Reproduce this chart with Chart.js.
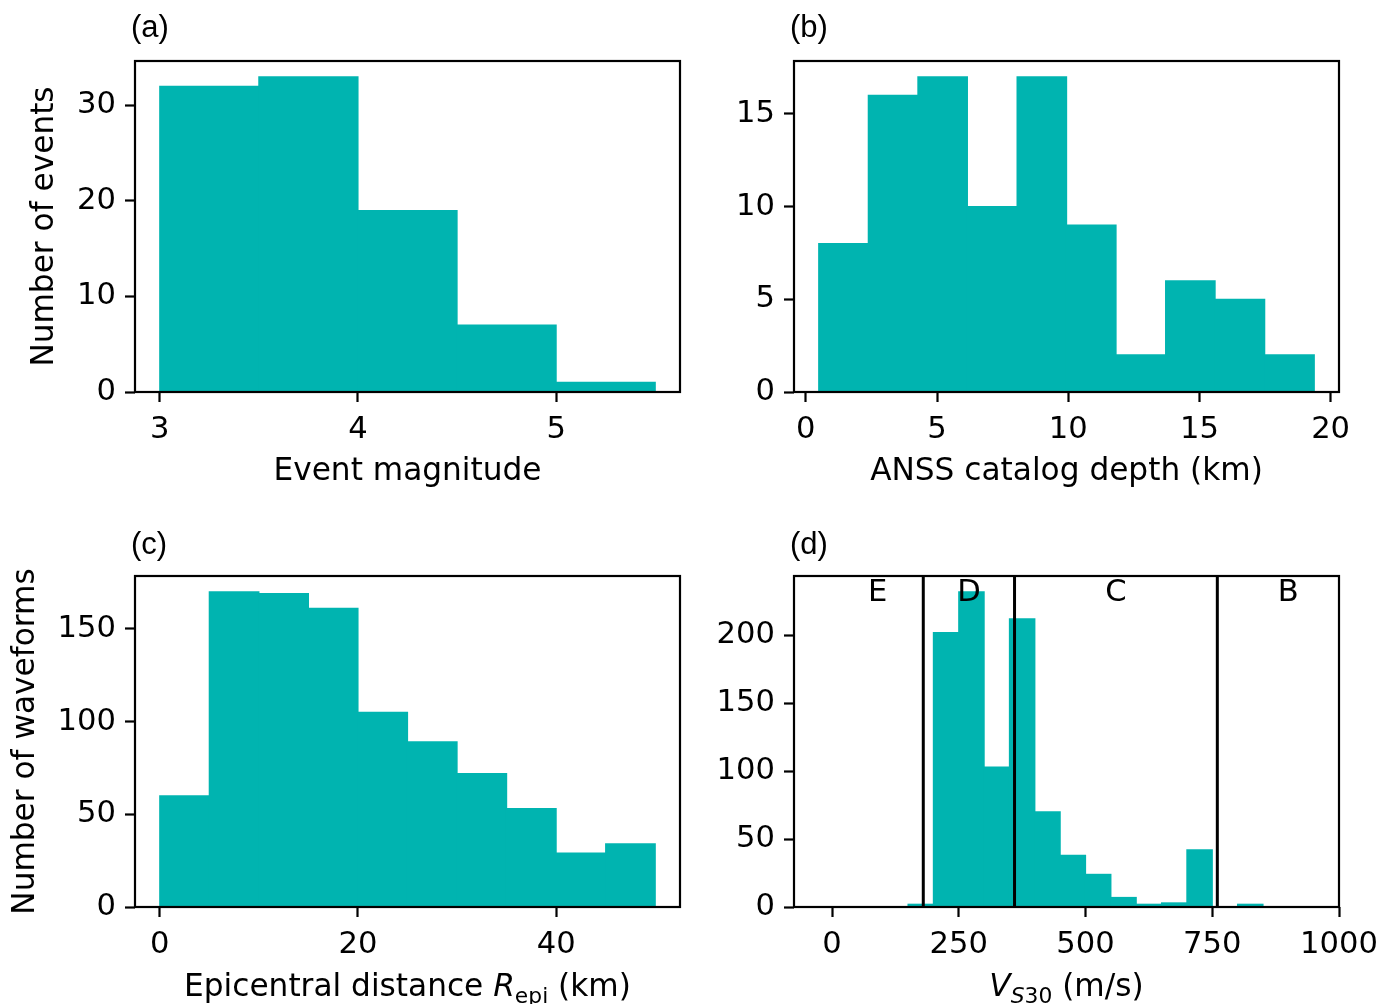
<!DOCTYPE html>
<html>
<head>
<meta charset="utf-8">
<script src="https://cdn.jsdelivr.net/npm/chart.js@4.4.1/dist/chart.umd.min.js"></script>
<style>
  html, body { margin: 0; padding: 0; background: #fff; overflow: hidden; }
  #fig { position: relative; width: 1380px; height: 1004px; }
  #fig canvas { position: absolute; }
</style>
</head>
<body>
<div id="fig">
  <canvas id="pa" width="690" height="502" style="left:0;top:0"></canvas>
  <canvas id="pb" width="690" height="502" style="left:690px;top:0"></canvas>
  <canvas id="pc" width="690" height="502" style="left:0;top:502px"></canvas>
  <canvas id="pd" width="690" height="502" style="left:690px;top:502px"></canvas>
</div>
<script>
'use strict';

// (a) event magnitude histogram
const MAG_EDGES  = [3.0, 3.5, 4.0, 4.5, 5.0, 5.5];
const MAG_COUNTS = [32, 33, 19, 7, 1];
const MAG_XLIM   = [2.875, 5.625];
const MAG_YLIM   = [0, 34.65];
const MAG_XTICKS = [3, 4, 5];
const MAG_YTICKS = [0, 10, 20, 30];

// (b) ANSS catalog depth histogram
const DEPTH_EDGES  = [0.49, 2.38, 4.27, 6.16, 8.05, 9.94, 11.82, 13.71, 15.60, 17.49, 19.38];
const DEPTH_COUNTS = [8, 16, 17, 10, 17, 9, 2, 6, 5, 2];
const DEPTH_XLIM   = [-0.45, 20.32];
const DEPTH_YLIM   = [0, 17.85];
const DEPTH_XTICKS = [0, 5, 10, 15, 20];
const DEPTH_YTICKS = [0, 5, 10, 15];

// (c) epicentral distance histogram
const REPI_EDGES  = [0, 5, 10, 15, 20, 25, 30, 35, 40, 45, 50];
const REPI_COUNTS = [60, 170, 169, 161, 105, 89, 72, 53, 29, 34];
const REPI_XLIM   = [-2.5, 52.5];
const REPI_YLIM   = [0, 178.5];
const REPI_XTICKS = [0, 20, 40];
const REPI_YTICKS = [0, 50, 100, 150];

// (d) Vs30 histogram with NEHRP site class boundaries
const VS30_EDGES  = [150, 200, 250, 300, 350, 400, 450, 500, 550, 600, 650, 700, 750, 800, 850];
const VS30_COUNTS = [2, 202, 232, 103, 212, 70, 38, 24, 7, 2, 3, 42, 0, 2];
const VS30_XLIM   = [-75, 1000];
const VS30_YLIM   = [0, 243.6];
const VS30_XTICKS = [0, 250, 500, 750, 1000];
const VS30_YTICKS = [0, 50, 100, 150, 200];
const SITE_BOUNDS  = [180, 360, 760];
const SITE_CLASSES = ['E', 'D', 'C', 'B'];
const SITE_LABEL_X = [90, 270, 560, 900];
const SITE_LABEL_Y = 231;

const FONT = "'DejaVu Sans'";
const FS = 30.6;        // tick labels
const FS_TITLE = 31.2;  // axis titles
const BAR_COLOR = '#00b4b0';

function histData(edges, counts) {
  return counts.map((c, i) => ({ x: (edges[i] + edges[i + 1]) / 2, y: c }));
}

function fixedTicks(values) {
  return scale => { scale.ticks = values.map(v => ({ value: v })); };
}

// text with italic / subscript runs, centred at (cx, cy)
function drawRich(ctx, segs, cx, cy) {
  const fontOf = s => (s.it ? 'italic ' : '') + (s.sub ? FS_TITLE * 0.7 : FS_TITLE) + 'px ' + FONT;
  let total = 0;
  segs.forEach(s => { ctx.font = fontOf(s); total += ctx.measureText(s.t).width; });
  let x = cx - total / 2;
  ctx.textAlign = 'left';
  ctx.textBaseline = 'alphabetic';
  const base = cy + FS_TITLE * 0.36;
  segs.forEach(s => {
    ctx.font = fontOf(s);
    ctx.fillText(s.t, x, base + (s.sub ? FS_TITLE * 0.22 : 0));
    x += ctx.measureText(s.t).width;
  });
}

const annotPlugin = {
  id: 'annot',
  afterDatasetsDraw(chart, args, o) {
    const { ctx, chartArea: a } = chart;
    ctx.save();
    ctx.strokeStyle = '#000';
    ctx.lineWidth = 2.2;
    ctx.strokeRect(a.left, a.top, a.right - a.left, a.bottom - a.top);

    ctx.fillStyle = '#000';
    if (o.letters) {
      ctx.font = FS + 'px ' + FONT;
      ctx.textAlign = 'center';
      ctx.textBaseline = 'middle';
      o.letters.forEach((t, i) => {
        ctx.fillText(t, chart.scales.x.getPixelForValue(o.letterX[i]),
                        chart.scales.y.getPixelForValue(o.letterY));
      });
    }
    ctx.restore();
  },
  afterDraw(chart, args, o) {
    const { ctx, chartArea: a } = chart;
    ctx.save();
    ctx.fillStyle = '#000';
    // panel tag
    ctx.font = "31px 'Liberation Sans', Arial, sans-serif";
    ctx.textAlign = 'left';
    ctx.textBaseline = 'middle';
    ctx.fillText(o.tag, a.left - 4, o.tagY);
    // x title
    drawRich(ctx, o.xTitle, (a.left + a.right) / 2, o.xTitleY);
    // y title
    if (o.yTitle) {
      ctx.translate(o.yTitleX, (a.top + a.bottom) / 2);
      ctx.rotate(-Math.PI / 2);
      ctx.font = FS_TITLE + 'px ' + FONT;
      ctx.textAlign = 'center';
      ctx.textBaseline = 'middle';
      ctx.fillText(o.yTitle, 0, 0);
    }
    ctx.restore();
  }
};

function axis(lim, ticks, extra) {
  return Object.assign({
    type: 'linear',
    min: lim[0],
    max: lim[1],
    offset: false,
    afterBuildTicks: fixedTicks(ticks),
    border: { display: false },
    grid: {
      offset: false, drawOnChartArea: false, drawTicks: true,
      tickLength: 10, tickWidth: 2.2, tickColor: '#000'
    },
    ticks: {
      color: '#000',
      font: { family: FONT, size: FS },
      autoSkip: false,
      maxRotation: 0,
      callback: v => String(v)
    }
  }, extra);
}

function makePanel(id, p) {
  const datasets = [{
    type: 'bar',
    data: histData(p.edges, p.counts),
    backgroundColor: BAR_COLOR,
    borderWidth: 0,
    inflateAmount: 0.6,
    barPercentage: 1,
    categoryPercentage: 1,
    order: 2
  }];
  (p.vlines || []).forEach(v => {
    datasets.push({
      type: 'line',
      data: [{ x: v, y: p.ylim[0] }, { x: v, y: p.ylim[1] }],
      borderColor: '#000',
      borderWidth: 3,
      pointRadius: 0,
      order: 1
    });
  });

  const xAx = axis(p.xlim, p.xticks, {
    afterFit: s => { s.height = p.xAxisH; s.paddingLeft = 0; s.paddingRight = 0; }
  });
  xAx.ticks.padding = 10;
  const yAx = axis(p.ylim, p.yticks, {
    afterFit: s => { s.width = p.yAxisW; s.paddingTop = 0; s.paddingBottom = 0; }
  });
  yAx.ticks.padding = 9;

  return new Chart(document.getElementById(id), {
    type: 'bar',
    data: { datasets },
    options: {
      responsive: false,
      animation: false,
      devicePixelRatio: 1,
      layout: { padding: { left: 0, right: p.padRight, top: p.padTop, bottom: 0 } },
      plugins: {
        legend: { display: false },
        tooltip: { enabled: false },
        annot: p.annot
      },
      scales: { x: xAx, y: yAx }
    },
    plugins: [annotPlugin]
  });
}

makePanel('pa', {
  edges: MAG_EDGES, counts: MAG_COUNTS, xlim: MAG_XLIM, ylim: MAG_YLIM,
  xticks: MAG_XTICKS, yticks: MAG_YTICKS,
  yAxisW: 135, xAxisH: 110, padTop: 61, padRight: 10,
  annot: {
    tag: '(a)', tagY: 28,
    xTitle: [{ t: 'Event magnitude' }], xTitleY: 469,
    yTitle: 'Number of events', yTitleX: 45
  }
});

makePanel('pb', {
  edges: DEPTH_EDGES, counts: DEPTH_COUNTS, xlim: DEPTH_XLIM, ylim: DEPTH_YLIM,
  xticks: DEPTH_XTICKS, yticks: DEPTH_YTICKS,
  yAxisW: 104, xAxisH: 110, padTop: 61, padRight: 41,
  annot: {
    tag: '(b)', tagY: 28,
    xTitle: [{ t: 'ANSS catalog depth (km)' }], xTitleY: 469
  }
});

makePanel('pc', {
  edges: REPI_EDGES, counts: REPI_COUNTS, xlim: REPI_XLIM, ylim: REPI_YLIM,
  xticks: REPI_XTICKS, yticks: REPI_YTICKS,
  yAxisW: 135, xAxisH: 97, padTop: 74, padRight: 10,
  annot: {
    tag: '(c)', tagY: 43,
    xTitle: [{ t: 'Epicentral distance ' }, { t: 'R', it: true }, { t: 'epi', sub: true }, { t: ' (km)' }],
    xTitleY: 483,
    yTitle: 'Number of waveforms', yTitleX: 26
  }
});

makePanel('pd', {
  edges: VS30_EDGES, counts: VS30_COUNTS, xlim: VS30_XLIM, ylim: VS30_YLIM,
  xticks: VS30_XTICKS, yticks: VS30_YTICKS,
  yAxisW: 104, xAxisH: 97, padTop: 74, padRight: 41,
  vlines: SITE_BOUNDS,
  annot: {
    tag: '(d)', tagY: 43,
    xTitle: [{ t: 'V', it: true }, { t: 'S', it: true, sub: true }, { t: '30', sub: true }, { t: ' (m/s)' }],
    xTitleY: 483,
    letters: SITE_CLASSES, letterX: SITE_LABEL_X, letterY: SITE_LABEL_Y
  }
});
</script>
</body>
</html>
